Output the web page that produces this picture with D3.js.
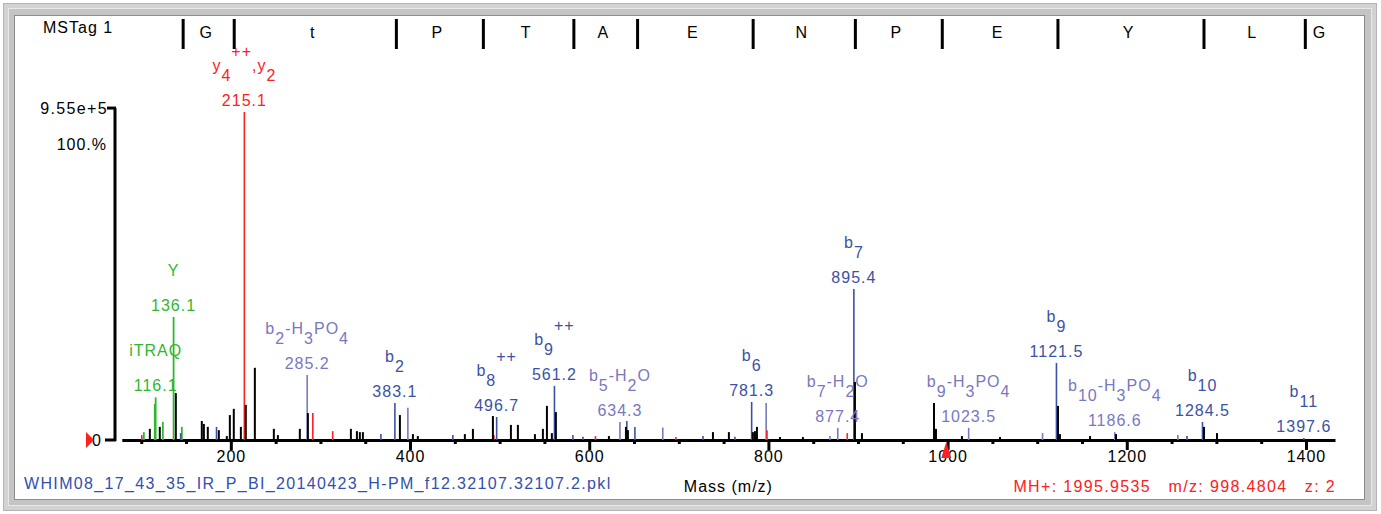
<!DOCTYPE html>
<html>
<head>
<meta charset="utf-8">
<script src="https://cdn.jsdelivr.net/npm/d3@7"></script>
<style>
  html, body { margin: 0; padding: 0; background: #fff; }
  svg text { font-family: "Liberation Sans", Arial, sans-serif; font-size: 16px; letter-spacing: 1px; }
  svg text.wide { letter-spacing: 1.35px; }
</style>
</head>
<body>
<svg id="chart" width="1381" height="514"></svg>
<script>
// sequence tag: residues and the b-ion mass that closes each one
const residues = ["G", "t", "P", "T", "A", "E", "N", "P", "E", "Y", "L", "G"];
const residueMz = [145.1, 202.1, 383.1, 480.2, 581.2, 652.3, 781.3, 895.4, 992.4, 1121.5, 1284.5, 1397.6];

// peaks [m/z, relative intensity %]
const otherPeaks = [
  [109.6, 3.4], [120.7, 4.0], [138.6, 14.3], [167.6, 5.8], [169.9, 4.9], [174.3, 4.0],
  [186.6, 3.0], [195.5, 1.2], [198.9, 7.6], [203.3, 9.5], [211.2, 4.0], [216.7, 10.7],
  [226.8, 22.0], [248.0, 3.4], [252.5, 1.5], [277.0, 3.4], [286.0, 8.2], [334.0, 3.4],
  [340.7, 2.7], [344.0, 2.4], [347.4, 2.4], [388.7, 7.6], [403.2, 1.8], [408.7, 1.2],
  [461.2, 1.8], [470.2, 3.4], [492.5, 7.3], [512.6, 4.6], [520.4, 4.6], [539.4, 1.8],
  [548.3, 3.4], [552.8, 10.4], [558.3, 2.1], [562.8, 8.5], [622.0, 1.2], [641.0, 4.0],
  [643.2, 3.0], [738.1, 2.4], [755.9, 2.4], [782.7, 2.4], [785.0, 2.7], [787.2, 4.0],
  [812.9, 0.9], [838.5, 0.9], [896.6, 17.7], [904.4, 2.1], [984.8, 11.3], [987.0, 3.4],
  [1016.0, 1.2], [1058.5, 0.9], [1123.2, 10.4], [1125.4, 1.8], [1159.0, 1.2], [1188.0, 1.8],
  [1286.2, 4.0], [1300.7, 2.1]
];
const bIonPeaks = [
  [144.0, 2.1], [184.0, 4.0], [367.5, 1.8], [383.1, 11.3], [447.8, 1.5], [496.7, 7.0],
  [561.2, 16.5], [581.8, 1.5], [593.0, 1.0], [642.0, 5.8], [651.0, 4.0], [727.0, 1.2],
  [762.6, 1.0], [781.3, 11.6], [895.4, 46.0], [1121.5, 23.5], [1267.2, 1.2], [1284.5, 5.5],
  [1397.6, 0.6]
];
const lossPeaks = [
  [285.2, 19.8], [397.6, 9.8], [634.3, 5.5], [682.1, 3.8], [797.5, 11.3], [868.7, 1.2],
  [877.4, 3.7], [1023.5, 3.7], [1106.0, 2.1], [1186.6, 2.4], [1257.0, 1.5]
];
const yIonPeaks = [
  [100.6, 1.5], [215.1, 100], [291.5, 8.2], [313.7, 2.7], [493.6, 1.5], [607.0, 1.2],
  [696.7, 0.9], [798.4, 3.0], [888.0, 2.1]
];
const reporterPeaks = [
  [102.9, 2.4], [115.1, 11.0], [116.1, 13.0], [124.1, 5.5], [136.1, 37.5], [145.3, 4.0]
];

// annotated peaks: m/z, ion name (_{} sub, ^{} sup), colour group
const labelMz = [215.1, 136.1, 116.1, 285.2, 383.1, 496.7, 561.2, 634.3, 781.3, 877.4, 895.4, 1023.5, 1121.5, 1186.6, 1284.5, 1397.6];
const labelName = ["y_{4}^{++},y_{2}", "Y", "iTRAQ", "b_{2}-H_{3}PO_{4}", "b_{2}", "b_{8}^{++}", "b_{9}^{++}", "b_{5}-H_{2}O",
  "b_{6}", "b_{7}-H_{2}O", "b_{7}", "b_{9}-H_{3}PO_{4}", "b_{9}", "b_{10}-H_{3}PO_{4}", "b_{10}", "b_{11}"];
const labelGroup = ["y", "rep", "rep", "loss", "b", "b", "b", "loss", "b", "loss", "b", "loss", "b", "loss", "b", "b"];

const xTicks = d3.range(200, 1401, 200);
const xMinorTicks = d3.range(100, 1432, 50).filter(v => v % 200 !== 0);

const colors = { other: "#000000", b: "#3a52a6", loss: "#7878c0", y: "#ff2020", rep: "#2fb82f" };

const svg = d3.select("#chart");

// bevelled frame
svg.append("rect").attr("x", 3.5).attr("y", 3.5).attr("width", 1373).attr("height", 507)
  .attr("fill", "#d2d2d2").attr("stroke", "#b4b4b4");
svg.append("rect").attr("x", 8.5).attr("y", 8.5).attr("width", 1363).attr("height", 497)
  .attr("fill", "#c4c4c4").attr("stroke", "#e8e8e8");
svg.append("rect").attr("x", 14.5).attr("y", 15.5).attr("width", 1350).attr("height", 484)
  .attr("fill", "#ffffff").attr("stroke", "#8c8c8c");

const x = d3.scaleLinear().domain([78.3, 1432.4]).range([121.8, 1335]);
const y = d3.scaleLinear().domain([0, 100]).range([440, 112]);

// sequence tag row
svg.append("text").attr("x", 43).attr("y", 33).text("MSTag 1");
svg.append("g").selectAll("rect").data(residueMz).join("rect")
  .attr("x", d => x(d)).attr("y", 19).attr("width", 3).attr("height", 30).attr("fill", "#000");
svg.append("g").selectAll("text").data(residues).join("text")
  .attr("x", (d, i) => i < residues.length - 1 ? (x(residueMz[i]) + x(residueMz[i + 1])) / 2 - 1 : x(residueMz[i]) + 9)
  .attr("y", 38)
  .attr("text-anchor", (d, i) => i < residues.length - 1 ? "middle" : "start")
  .text(d => d);

// x axis
const xAxis = svg.append("g").attr("transform", "translate(0,440)")
  .call(d3.axisBottom(x).tickValues(xTicks).tickSize(10).tickPadding(1).tickSizeOuter(0).tickFormat(d3.format("d")));
xAxis.select(".domain").attr("stroke", "#000").attr("stroke-width", 3);
xAxis.selectAll(".tick line").attr("stroke", "#000").attr("stroke-width", 3);
xAxis.selectAll(".tick text").attr("fill", "#000").attr("font-size", null).attr("font-family", null);
const xMinor = svg.append("g").attr("transform", "translate(0,440)")
  .call(d3.axisBottom(x).tickValues(xMinorTicks).tickSize(4).tickSizeOuter(0).tickFormat(""));
xMinor.select(".domain").remove();
xMinor.selectAll(".tick line").attr("stroke", "#000").attr("stroke-width", 3);

// y axis
const yTopPct = 101.2;
svg.append("line").attr("x1", 115).attr("x2", 115).attr("y1", y(yTopPct)).attr("y2", y(0) + 1)
  .attr("stroke", "#000").attr("stroke-width", 3);
svg.append("line").attr("x1", 107).attr("x2", 116).attr("y1", y(yTopPct)).attr("y2", y(yTopPct))
  .attr("stroke", "#000").attr("stroke-width", 3);
svg.append("line").attr("x1", 105).attr("x2", 116).attr("y1", y(0)).attr("y2", y(0))
  .attr("stroke", "#000").attr("stroke-width", 3);
svg.append("text").attr("x", 108).attr("y", y(yTopPct) + 6).attr("text-anchor", "end")
  .attr("class", "wide").text("9.55e+5");
svg.append("text").attr("x", 107).attr("y", y(100) + 38).attr("text-anchor", "end").text("100.%");
svg.append("text").attr("x", 102).attr("y", y(0) + 6).attr("text-anchor", "end").text("0");
svg.append("path").attr("d", `M86,${y(0) - 8}L94,${y(0)}L86,${y(0) + 8}Z`).attr("fill", "#ff2020");

// peaks
function drawPeaks(data, color, width) {
  svg.append("g").selectAll("line").data(data).join("line")
    .attr("x1", d => x(d[0])).attr("x2", d => x(d[0]))
    .attr("y1", y(0)).attr("y2", d => y(d[1]))
    .attr("stroke", color).attr("stroke-width", width);
}
drawPeaks(lossPeaks, colors.loss, 1.6);
drawPeaks(yIonPeaks, colors.y, 1.6);
drawPeaks(reporterPeaks, colors.rep, 1.8);
drawPeaks(bIonPeaks, colors.b, 1.6);
drawPeaks(otherPeaks, colors.other, 2);

// precursor marker
const xPre = x(998.4804);
svg.append("path").attr("d", `M${xPre},442L${xPre + 5},458L${xPre - 5},458Z`).attr("fill", "#ff2020");

// peak labels
const allPeaks = [].concat(bIonPeaks, lossPeaks, yIonPeaks, reporterPeaks);
labelMz.forEach((mz, i) => {
  const hit = allPeaks.find(p => p[0] === mz);
  const top = y(hit[1]);
  const col = colors[labelGroup[i]];
  const massBase = top - 6;
  svg.append("text").attr("x", x(mz)).attr("y", massBase).attr("text-anchor", "middle")
    .attr("fill", col).text(mz.toFixed(1));
  const t = svg.append("text").attr("x", x(mz)).attr("y", massBase - 35)
    .attr("text-anchor", "middle").attr("fill", col);
  const parts = labelName[i].match(/_\{[^}]*\}|\^\{[^}]*\}|[^_^]+/g);
  let shift = 0;
  parts.forEach(p => {
    let s = 0, txt = p;
    if (p[0] === "_") { s = 10; txt = p.slice(2, -1); }
    if (p[0] === "^") { s = -14; txt = p.slice(2, -1); }
    t.append("tspan").attr("dy", s - shift).text(txt);
    shift = s;
  });
});

// footer
svg.append("text").attr("x", 24).attr("y", 489).attr("fill", "#3050b0").attr("class", "wide")
  .text("WHIM08_17_43_35_IR_P_BI_20140423_H-PM_f12.32107.32107.2.pkl");
svg.append("text").attr("x", (x.range()[0] + x.range()[1]) / 2).attr("y", 492).attr("text-anchor", "middle")
  .text("Mass (m/z)");
svg.append("text").attr("x", 1336).attr("y", 492).attr("text-anchor", "end").attr("fill", "#ff2020")
  .attr("class", "wide").style("white-space", "pre").text("MH+: 1995.9535   m/z: 998.4804   z: 2");
</script>
</body>
</html>
